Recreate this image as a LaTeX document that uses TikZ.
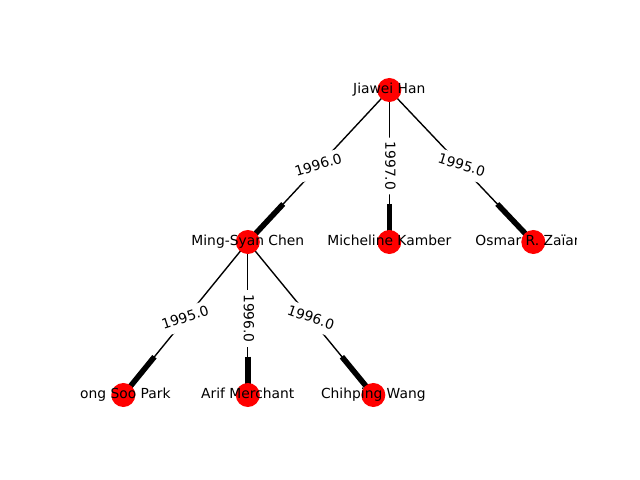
\documentclass[tikz,border=0pt]{standalone}
\usepackage{fontspec}
\setmainfont{DejaVu Sans}
\usetikzlibrary{calc}
\pgfdeclarelayer{edges}
\pgfsetlayers{edges,main}
\begin{document}
\begin{tikzpicture}[x=0.01in,y=-0.01in,
  person/.style={circle,fill=red,draw=none,minimum size=0.24in,inner sep=0pt},
  pname/.style={font=\fontsize{10}{12}\selectfont,text height=7.6pt,text depth=2.1pt,inner sep=0pt},
  link/.style={line width=1pt,line cap=butt},
  linkhead/.style={line width=4pt,line cap=butt},
  year/.style={fill=white,rounded corners=3pt,inner sep=3pt,
    font=\fontsize{10}{12}\selectfont,text height=7.6pt,text depth=2.1pt}]
\useasboundingbox (0,0) rectangle (640,480);
% people, clipped to the plotting area
\begin{scope}
  \clip (80,57.6) rectangle (576,427.2);
  \node[person] (jh)  at (389.3,90)   {};
  \node[person] (msc) at (247.8,242)  {};
  \node[person] (mk)  at (389.3,242)  {};
  \node[person] (orz) at (533.3,242)  {};
  \node[person] (jsp) at (123.3,395)  {};
  \node[person] (am)  at (247.8,395)  {};
  \node[person] (cw)  at (373.3,395)  {};
  \node[pname] (jhl)  at (jh.center)  {Jiawei Han};
  \node[pname] (mscl) at (msc.center) {Ming-Syan Chen};
  \node[pname] (mkl)  at (mk.center)  {Micheline Kamber};
  \node[pname] (orzl) at (orz.center) {Osmar R. Zaïane};
  \node[pname] (jspl) at (jsp.center) {Jong Soo Park};
  \node[pname] (aml)  at (am.center)  {Arif Merchant};
  \node[pname] (cwl)  at (cw.center)  {Chihping Wang};
\end{scope}
% directed links with year labels
\begin{pgfonlayer}{edges}
  \foreach \s/\t/\yr/\ang in {jh/msc/1996.0/17, jh/mk/1997.0/-90, jh/orz/1995.0/-17,
      msc/jsp/1995.0/18, msc/am/1996.0/-90, msc/cw/1996.0/-19} {
    \draw[link] (\s.center) -- (\t.center);
    \draw[linkhead] ($(\s.center)!0.75!(\t.center)$) -- (\t.center);
    \node[year,rotate=\ang] (y-\s-\t) at ($(\s.center)!0.5!(\t.center)$) {\yr};
  }
\end{pgfonlayer}
\end{tikzpicture}
\end{document}
